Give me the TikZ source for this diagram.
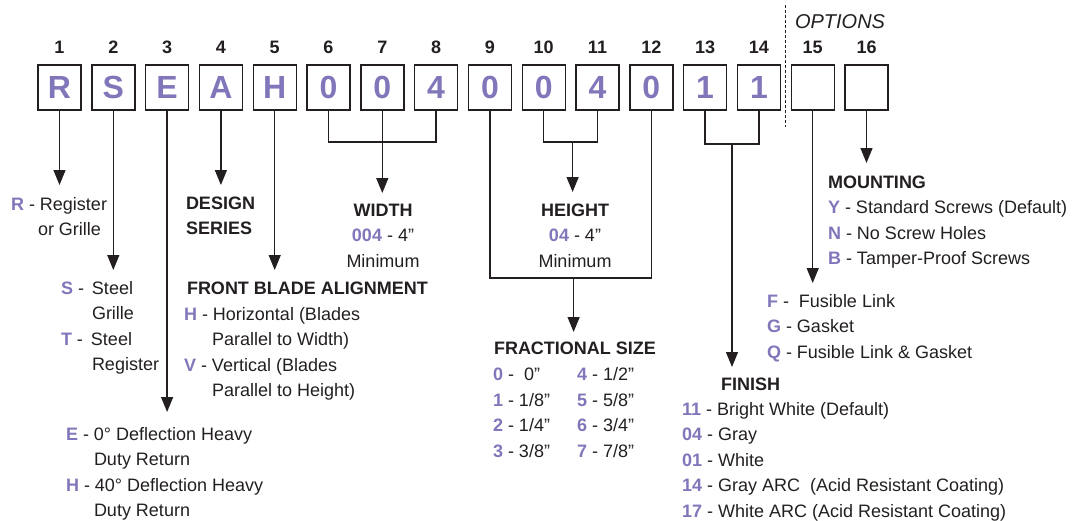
\documentclass[tikz,border=0pt]{standalone}
\usepackage{xcolor}
\usepackage{fontspec}
\setmainfont{Liberation Sans}
\usetikzlibrary{arrows.meta,calc}
\definecolor{keypurple}{RGB}{128,119,186}
\definecolor{ink}{RGB}{35,31,32}
\newcommand{\K}[1]{\textcolor{keypurple}{\textbf{#1}}}

\begin{document}
\begin{tikzpicture}[
      x=1pt, y=-1pt,
      every node/.style={inner sep=0pt, outer sep=0pt, text=ink,
        font=\fontsize{18}{25.5}\selectfont},
      digitbox/.style={draw=ink, line width=1.4pt, minimum width=43pt,
        minimum height=45pt, text=keypurple,
        font=\fontsize{32}{32}\selectfont\bfseries},
      posnum/.style={anchor=base, font=\fontsize{18}{18}\selectfont\bfseries},
      wire/.style={draw=ink, line width=1.3pt},
      arr/.style={wire, -{Triangle[length=15pt,width=12pt]}},
      txt/.style={anchor=base west},
      heading/.style={anchor=base west, font=\fontsize{18}{18}\selectfont\bfseries},
    ]
    \useasboundingbox (0,0) rectangle (1073,520);
    %% The sixteen code boxes with their position numbers.
    \foreach \i/\c in {1/R,2/S,3/E,4/A,5/H,6/0,7/0,8/4,9/0,10/0,11/4,12/0,
        13/1,14/1,15/{},16/{}} {
      \node[digitbox] (b\i) at ({59.5+(\i-1)*53.8},87.5) {\c};
      \node[posnum] (n\i) at ({59.5+(\i-1)*53.8},53) {\i};
    }
    %% Options separator.
    \draw[ink, line width=1pt, dash pattern=on 3pt off 2pt] (785,5) -- (785,127);
    \node[anchor=base west, font=\fontsize{20}{20}\selectfont\itshape]
      (opts) at (795,28) {OPTIONS};
    %% Single-box arrows (box / drop).
    \foreach \i/\d in {1/75,2/160,3/302,4/75,5/160,15/173,16/53} {
      \path (b\i.south) ++(0,\d) coordinate (t\i);
      \draw[arr] (b\i.south) -- (t\i);
    }
    %% Width bracket, boxes 6 to 8.
    \draw[wire] (b6.south) -- ++(0,32) -| (b8.south);
    \path (b7.south) ++(0,83) coordinate (tw);
    \draw[arr] (b7.south) -- (tw);
    %% Height bracket, boxes 10 and 11.
    \draw[wire] (b10.south) -- ++(0,32) -| (b11.south);
    \coordinate (hj) at ($(b10.south)!.5!(b11.south)+(2,32)$);
    \path (hj) ++(0,50) coordinate (th);
    \draw[arr] (hj) -- (th);
    %% Fraction bracket, boxes 9 and 12.
    \draw[wire] (b9.south) -- ++(0,168) -| (b12.south);
    \coordinate (fj) at ($(b9.south)!.5!(b12.south)+(3,168)$);
    \path (fj) ++(0,54) coordinate (tf);
    \draw[arr] (fj) -- (tf);
    %% Finish bracket, boxes 13 and 14.
    \draw[wire] (b13.south) -- ++(0,34) -| (b14.south);
    \coordinate (kj) at ($(b13.south)!.5!(b14.south)+(0,34)$);
    \path (kj) ++(0,223) coordinate (tk);
    \draw[arr] (kj) -- (tk);
    %% Labels, type.
    \node[txt] (rreg) at (11,210)    {\K{R} - Register};
    \node[txt] (rgri) at (38,235.5)  {or Grille};
    %% Labels, material.
    \node[txt] (sste) at (61,294)    {\K{S} - \kern3pt Steel};
    \node[txt] (sgri) at (92,319.5)  {Grille};
    \node[txt] (tste) at (61,345)    {\K{T} - \kern3pt Steel};
    \node[txt] (treg) at (92,370.5)  {Register};
    %% Labels, return.
    \node[txt] (edef) at (66,440)    {\K{E} - 0° Deflection Heavy};
    \node[txt] (edut) at (94,465.5)  {Duty Return};
    \node[txt] (hdef) at (66,491)    {\K{H} - 40° Deflection Heavy};
    \node[txt] (hdut) at (94,516.5)  {Duty Return};
    %% Labels, series.
    \node[heading] (desg) at (186,209)   {DESIGN};
    \node[heading] (seri) at (186,234.5) {SERIES};
    %% Labels, blade alignment.
    \node[heading] (fba) at (187,294) {FRONT BLADE ALIGNMENT};
    \node[txt] (hhor) at (184,320)   {\K{H} - Horizontal (Blades};
    \node[txt] (hpar) at (212,345.5) {Parallel to Width)};
    \node[txt] (vver) at (184,371)   {\K{V} - Vertical (Blades};
    \node[txt] (vpar) at (212,396.5) {Parallel to Height)};
    %% Labels, width and height.
    \node[heading, anchor=base] (wid)  at (383,216)   {WIDTH};
    \node[anchor=base]          (widv) at (383,241.5) {\K{004} - 4”};
    \node[anchor=base]          (widm) at (383,267)   {Minimum};
    \node[heading, anchor=base] (hgt)  at (575,216)   {HEIGHT};
    \node[anchor=base]          (hgtv) at (575,241.5) {\K{04} - 4”};
    \node[anchor=base]          (hgtm) at (575,267)   {Minimum};
    %% Labels, fractional size.
    \node[heading] (frac) at (494,354) {FRACTIONAL SIZE};
    \node[txt] (fr0) at (493,380.5) {\K{0} - \ 0”};
    \node[txt] (fr1) at (493,406)   {\K{1} - 1/8”};
    \node[txt] (fr2) at (493,431.5) {\K{2} - 1/4”};
    \node[txt] (fr3) at (493,457)   {\K{3} - 3/8”};
    \node[txt] (fr4) at (577,380.5) {\K{4} - 1/2”};
    \node[txt] (fr5) at (577,406)   {\K{5} - 5/8”};
    \node[txt] (fr6) at (577,431.5) {\K{6} - 3/4”};
    \node[txt] (fr7) at (577,457)   {\K{7} - 7/8”};
    %% Labels, finish.
    \node[heading] (fin) at (721,390) {FINISH};
    \node[txt] (f11) at (682,415)   {\K{11} - Bright White (Default)};
    \node[txt] (f04) at (682,440.5) {\K{04} - Gray};
    \node[txt] (f01) at (682,466)   {\K{01} - White};
    \node[txt] (f14) at (682,491.5) {\K{14} - Gray ARC \ (Acid Resistant Coating)};
    \node[txt] (f17) at (682,517)   {\K{17} - White ARC (Acid Resistant Coating)};
    %% Labels, option 15.
    \node[txt] (ofus) at (767,307)   {\K{F} - \ Fusible Link};
    \node[txt] (ogas) at (767,332.5) {\K{G} - Gasket};
    \node[txt] (oboth) at (767,358)  {\K{Q} - Fusible Link \& Gasket};
    %% Labels, mounting.
    \node[heading] (mnt) at (828,188) {MOUNTING};
    \node[txt] (my) at (828,213.5) {\K{Y} - Standard Screws (Default)};
    \node[txt] (mn) at (828,239)   {\K{N} - No Screw Holes};
    \node[txt] (mb) at (828,264.5) {\K{B} - Tamper-Proof Screws};
  \end{tikzpicture}
\end{document}
